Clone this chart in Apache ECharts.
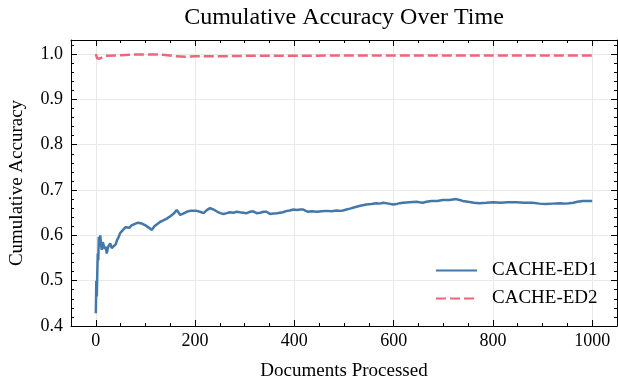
<!DOCTYPE html>
<html lang="en">
<head>
    <meta charset="UTF-8">
    <title>Cumulative Accuracy Over Time</title>
    <script src="https://cdn.jsdelivr.net/npm/echarts@6/dist/echarts.min.js"></script>
    <style>
        html,body{margin:0;padding:0;background:#fff;}
        #chart{width:618px;height:377px;}
    </style>
</head>
<body>
<div id="chart"></div>
<script>
    // CACHE-ED1 (blue, solid)
    var ed1Docs=[0,1,2,3,4,5,6,8,9,11,12,14,16,18,20,22,25,29,32,36,40,43,46,49,53,56,60,63,68,72,76,80,85,89,93,96,100,103,108,113,118,124,130,136,143,150,157,163,167,170,176,183,190,197,203,210,217,223,230,237,245,251,257,264,270,277,284,290,297,304,311,317,324,331,338,344,351,358,365,371,377,385,391,398,405,412,418,423,428,435,445,455,465,475,485,492,498,505,512,518,525,535,545,555,565,572,579,590,599,606,612,619,632,646,652,659,666,676,688,699,712,726,733,739,750,762,773,787,800,815,830,847,863,880,894,907,920,935,947,954,962,970,981,990,1000];
    var ed1Acc=[0.428,0.50,0.465,0.52,0.56,0.545,0.597,0.575,0.60,0.575,0.568,0.585,0.582,0.57,0.575,0.56,0.575,0.582,0.572,0.568,0.58,0.59,0.596,0.605,0.61,0.612,0.618,0.619,0.617,0.622,0.623,0.626,0.628,0.63,0.626,0.627,0.622,0.619,0.616,0.612,0.62,0.625,0.63,0.633,0.637,0.642,0.648,0.656,0.65,0.645,0.648,0.652,0.654,0.654,0.654,0.652,0.649,0.655,0.66,0.657,0.652,0.649,0.647,0.649,0.651,0.65,0.652,0.651,0.65,0.649,0.652,0.653,0.649,0.65,0.652,0.652,0.647,0.648,0.649,0.65,0.651,0.654,0.655,0.657,0.656,0.657,0.657,0.654,0.652,0.653,0.652,0.653,0.654,0.653,0.655,0.654,0.655,0.657,0.659,0.661,0.663,0.666,0.668,0.669,0.671,0.67,0.672,0.67,0.668,0.669,0.671,0.672,0.673,0.674,0.673,0.672,0.674,0.676,0.676,0.678,0.678,0.68,0.678,0.676,0.674,0.672,0.671,0.672,0.673,0.672,0.673,0.673,0.672,0.672,0.67,0.669,0.67,0.671,0.67,0.671,0.672,0.674,0.676,0.676,0.676];
    // CACHE-ED2 (pink, dashed)
    var ed2Docs=[0,1,3,5,8,12,20,40,60,80,100,120,140,160,180,200,250,300,400,500,600,700,800,900,1000];
    var ed2Acc=[1.0,1.0,0.99,0.987,0.99,0.994,0.996,0.997,0.998,0.999,0.999,0.999,0.998,0.995,0.994,0.995,0.995,0.996,0.996,0.997,0.997,0.997,0.997,0.997,0.997];

    var xMajorTicks=[0,200,400,600,800,1000];
    var xMinorTicks=[50,100,150,250,300,350,450,500,550,650,700,750,850,900,950];
    var yMajorTicks=[0.4,0.5,0.6,0.7,0.8,0.9,1.0];
    var yMinorTicks=[0.42,0.44,0.46,0.48,0.52,0.54,0.56,0.58,0.62,0.64,0.66,0.68,0.72,0.74,0.76,0.78,0.82,0.84,0.86,0.88,0.92,0.94,0.96,0.98,1.02];

    var FONT='Liberation Serif';

    function pairs(xs,ys){
        var out=[];
        for(var i=0;i<xs.length;i++){
            out.push([xs[i],ys[i]]);
        }
        return out;
    }

    function makeAxis(pos,min,max,ticks,len,main,labels,fmt){
        return {
            type:'value',
            position:pos,
            min:min,
            max:max,
            axisLine:{show:main,onZero:false,lineStyle:{color:'#000',width:1}},
            axisTick:{show:true,inside:true,length:len,customValues:ticks,lineStyle:{color:'#000',width:1}},
            axisLabel:{show:labels,customValues:ticks,fontFamily:FONT,fontSize:18,color:'#000',margin:(pos==='bottom'?6:8),formatter:fmt},
            splitLine:{show:main&&labels,lineStyle:{color:'#e9e9e9',width:1}}
        };
    }

    var fmtX=function(v){return String(v);};
    var fmtY=function(v){return v.toFixed(1);};

    var xAxes=[
        makeAxis('bottom',-50,1050,xMajorTicks,6,true,true,fmtX),
        makeAxis('bottom',-50,1050,xMinorTicks,3,false,false),
        makeAxis('top',-50,1050,xMajorTicks,6,true,false),
        makeAxis('top',-50,1050,xMinorTicks,3,false,false)
    ];
    xAxes[0].name='Documents Processed';
    xAxes[0].nameLocation='middle';
    xAxes[0].nameGap=36;
    xAxes[0].nameTextStyle={fontFamily:FONT,fontSize:19,color:'#000'};

    var yAxes=[
        makeAxis('left',0.4,1.031,yMajorTicks,6,true,true,fmtY),
        makeAxis('left',0.4,1.031,yMinorTicks,3,false,false),
        makeAxis('right',0.4,1.031,yMajorTicks,6,true,false),
        makeAxis('right',0.4,1.031,yMinorTicks,3,false,false)
    ];
    yAxes[0].name='Cumulative Accuracy';
    yAxes[0].nameLocation='middle';
    yAxes[0].nameGap=44;
    yAxes[0].nameTextStyle={fontFamily:FONT,fontSize:19,color:'#000'};

    var option={
        animation:false,
        backgroundColor:'#fff',
        title:{
            text:'Cumulative Accuracy Over Time',
            left:344,
            top:6,
            padding:0,
            textAlign:'center',
            textStyle:{fontFamily:FONT,fontSize:24,fontWeight:'normal',color:'#000'}
        },
        legend:{
            orient:'vertical',
            left:430,
            top:256,
            itemWidth:41,
            itemHeight:14,
            itemGap:9,
            itemStyle:{opacity:0},
            textStyle:{fontFamily:FONT,fontSize:19,color:'#000',padding:[0,0,0,10]},
            data:['CACHE-ED1','CACHE-ED2']
        },
        grid:{left:71,right:1,top:40,bottom:51,outerBoundsMode:'none'},
        xAxis:xAxes,
        yAxis:yAxes,
        series:[
            {
                name:'CACHE-ED1',
                type:'line',
                symbol:'none',
                data:pairs(ed1Docs,ed1Acc),
                lineStyle:{color:'#4477AA',width:2.5},
                itemStyle:{color:'#4477AA'}
            },
            {
                name:'CACHE-ED2',
                type:'line',
                symbol:'none',
                data:pairs(ed2Docs,ed2Acc),
                lineStyle:{color:'#EE6677',width:2.5,type:[10,4]},
                itemStyle:{color:'#EE6677'}
            }
        ]
    };
    var chart=echarts.init(document.getElementById('chart'));
    chart.setOption(option);
</script>
</body>
</html>
